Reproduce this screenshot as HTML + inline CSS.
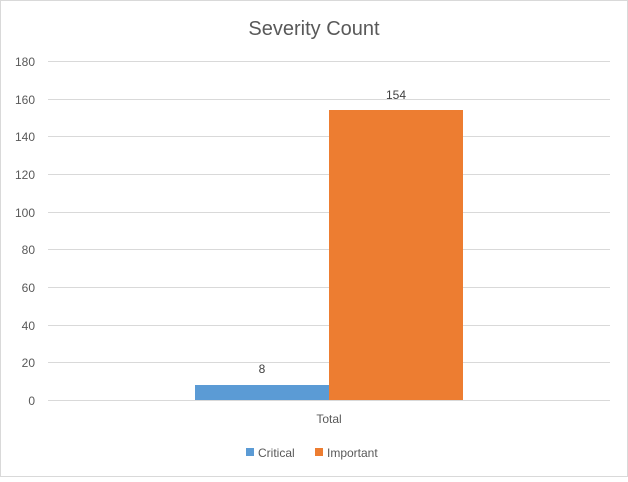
<!DOCTYPE html>
<html><head><style>
body{margin:0;background:#fff;}
svg text{font-family:"Liberation Sans",sans-serif;}
</style></head><body>
<svg width="628" height="477" xmlns="http://www.w3.org/2000/svg">
<rect x="0.5" y="0.5" width="627" height="476" fill="#fff" stroke="#d9d9d9"/>
<text x="314" y="35" text-anchor="middle" font-size="20" fill="#595959">Severity Count</text>
<g stroke="#d9d9d9" stroke-width="1">
<line x1="48" x2="610" y1="61.5" y2="61.5"/>
<line x1="48" x2="610" y1="99.5" y2="99.5"/>
<line x1="48" x2="610" y1="136.5" y2="136.5"/>
<line x1="48" x2="610" y1="174.5" y2="174.5"/>
<line x1="48" x2="610" y1="212.5" y2="212.5"/>
<line x1="48" x2="610" y1="249.5" y2="249.5"/>
<line x1="48" x2="610" y1="287.5" y2="287.5"/>
<line x1="48" x2="610" y1="325.5" y2="325.5"/>
<line x1="48" x2="610" y1="362.5" y2="362.5"/>
<line x1="48" x2="610" y1="400.5" y2="400.5"/>
</g>
<g font-size="12" fill="#595959" text-anchor="end">
<text x="35" y="66">180</text>
<text x="35" y="104">160</text>
<text x="35" y="141">140</text>
<text x="35" y="179">120</text>
<text x="35" y="217">100</text>
<text x="35" y="254">80</text>
<text x="35" y="292">60</text>
<text x="35" y="330">40</text>
<text x="35" y="367">20</text>
<text x="35" y="405">0</text>
</g>
<rect x="195" y="385" width="134" height="15" fill="#5b9bd5"/>
<rect x="329" y="110" width="134" height="290" fill="#ed7d31"/>
<text x="262" y="373" text-anchor="middle" font-size="12" fill="#404040">8</text>
<text x="396" y="99" text-anchor="middle" font-size="12" fill="#404040">154</text>
<text x="329" y="423" text-anchor="middle" font-size="12" fill="#595959">Total</text>
<rect x="246" y="448" width="8" height="8" fill="#5b9bd5"/>
<text x="258" y="457" font-size="12" fill="#595959">Critical</text>
<rect x="315" y="448" width="8" height="8" fill="#ed7d31"/>
<text x="327" y="457" font-size="12" fill="#595959">Important</text>
</svg>
</body></html>
